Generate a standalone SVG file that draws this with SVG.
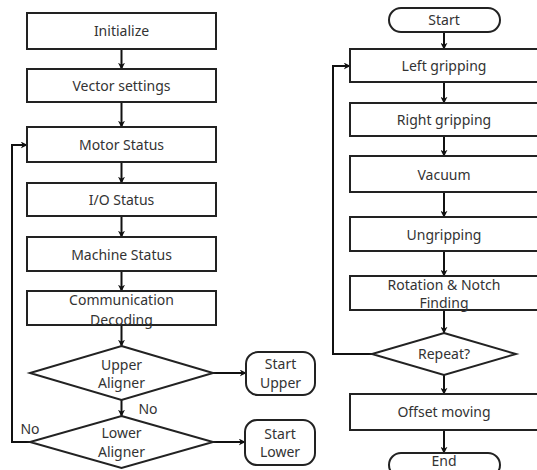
<svg xmlns="http://www.w3.org/2000/svg" width="537" height="470" viewBox="0 0 537 470">
<defs>
<marker id="ah" viewBox="0 0 10 10" refX="9" refY="5" markerWidth="7" markerHeight="7" orient="auto" markerUnits="userSpaceOnUse">
<path d="M0,0 L10,5 L0,10 L3,5 z" fill="#111"/>
</marker>
<style>
.b{fill:#fff;stroke:#222;stroke-width:2}
.t{font-family:"Noto Sans","Open Sans","DejaVu Sans",sans-serif;font-size:14px;fill:#333;text-anchor:middle}
.c{fill:none;stroke:#111;stroke-width:2;marker-end:url(#ah)}
</style>
</defs>
<rect width="537" height="470" fill="#fff"/>
<g id="connectors">
<path class="c" d="M121.5,49 V69"/>
<path class="c" d="M121.5,102 V127"/>
<path class="c" d="M121.5,162 V183"/>
<path class="c" d="M121.5,216 V237"/>
<path class="c" d="M121.5,271 V291"/>
<path class="c" d="M121.5,325 V346"/>
<path class="c" d="M121.5,400 V416"/>
<path class="c" d="M213,373 H246"/>
<path class="c" d="M213,442 H245"/>
<path class="c" d="M30,442 H12 V145 H27"/>
<path class="c" d="M444,32 V49"/>
<path class="c" d="M444,82 V103"/>
<path class="c" d="M444,136 V156"/>
<path class="c" d="M444,192 V217"/>
<path class="c" d="M444,251 V276"/>
<path class="c" d="M444,310 V333"/>
<path class="c" d="M444,375 V394"/>
<path class="c" d="M444,430 V453"/>
<path class="c" d="M372,354 H333 V66 H350"/>
<text class="t" x="148" y="414">No</text>
<text class="t" x="30" y="434">No</text>
</g>
<g id="initialize"><rect class="b" x="27" y="13" width="189" height="36"/><text class="t" x="121.5" y="36">Initialize</text></g>
<g id="vector"><rect class="b" x="27" y="69" width="189" height="33"/><text class="t" x="121.5" y="91">Vector settings</text></g>
<g id="motor"><rect class="b" x="27" y="127" width="189" height="35"/><text class="t" x="121.5" y="150">Motor Status</text></g>
<g id="io"><rect class="b" x="27" y="183" width="189" height="33"/><text class="t" x="121.5" y="205">I/O Status</text></g>
<g id="machine"><rect class="b" x="27" y="237" width="189" height="34"/><text class="t" x="121.5" y="260">Machine Status</text></g>
<g id="comm"><rect class="b" x="27" y="291" width="189" height="34"/><text class="t" x="121.5" y="305">Communication</text><text class="t" x="121.5" y="325">Decoding</text></g>
<g id="upper"><polygon class="b" points="121.5,346 213,373 121.5,400 30,373"/><text class="t" x="121.5" y="370">Upper</text><text class="t" x="121.5" y="388">Aligner</text></g>
<g id="lower"><polygon class="b" points="121.5,416 213,442 121.5,468 30,442"/><text class="t" x="121.5" y="438">Lower</text><text class="t" x="121.5" y="457">Aligner</text></g>
<g id="startupper"><rect class="b" x="246" y="352" width="69" height="43" rx="12"/><text class="t" x="280.5" y="369">Start</text><text class="t" x="280.5" y="388">Upper</text></g>
<g id="startlower"><rect class="b" x="245" y="420" width="70" height="45" rx="12"/><text class="t" x="280" y="439">Start</text><text class="t" x="280" y="457">Lower</text></g>
<g id="start"><rect class="b" x="389" y="8" width="111" height="24" rx="12"/><text class="t" x="444" y="25">Start</text></g>
<g id="leftgrip"><rect class="b" x="350" y="49" width="190" height="33"/><text class="t" x="444" y="71">Left gripping</text></g>
<g id="rightgrip"><rect class="b" x="350" y="103" width="190" height="33"/><text class="t" x="444" y="125">Right gripping</text></g>
<g id="vacuum"><rect class="b" x="350" y="156" width="190" height="36"/><text class="t" x="444" y="180">Vacuum</text></g>
<g id="ungrip"><rect class="b" x="350" y="217" width="190" height="34"/><text class="t" x="444" y="240">Ungripping</text></g>
<g id="rotation"><rect class="b" x="350" y="276" width="190" height="34"/><text class="t" x="444" y="290">Rotation &amp; Notch</text><text class="t" x="444" y="308">Finding</text></g>
<g id="repeat"><polygon class="b" points="444,333 516,354 444,375 372,354"/><text class="t" x="444" y="359">Repeat?</text></g>
<g id="offset"><rect class="b" x="350" y="394" width="190" height="36"/><text class="t" x="444" y="417">Offset moving</text></g>
<g id="end"><rect class="b" x="389" y="453" width="111" height="24" rx="12"/><text class="t" x="444" y="466" font-size="13">End</text></g>
</svg>
